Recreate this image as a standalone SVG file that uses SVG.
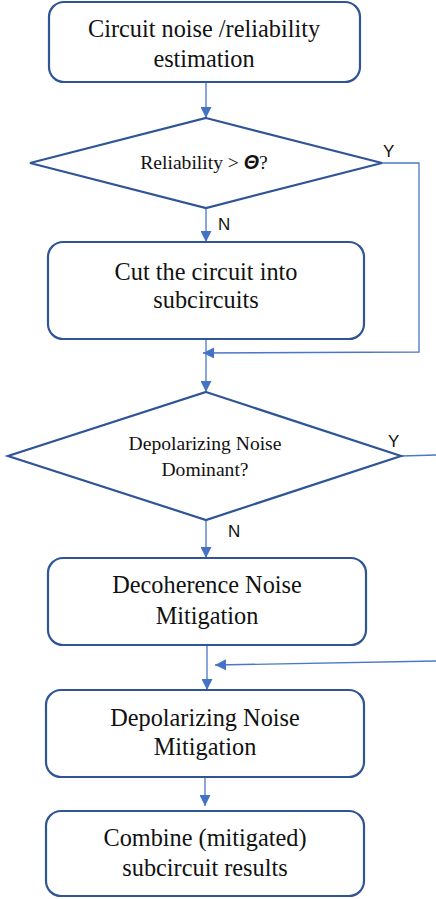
<svg xmlns="http://www.w3.org/2000/svg" width="436" height="899" viewBox="0 0 436 899">
<style>
.box{fill:#fff;stroke:#2F5597;stroke-width:2.2}
.t{font-size:24.3px;fill:#111;text-anchor:middle}
.ts{font-size:19.6px;fill:#111;text-anchor:middle}
.lbl{font-size:17px;fill:#111}
.c{fill:none;stroke:#4A78C8;stroke-width:1.3}
</style>
<defs>
<marker id="ah" viewBox="0 0 10 10" refX="10" refY="5" markerWidth="11" markerHeight="11" markerUnits="userSpaceOnUse" orient="auto">
<path d="M0,0 L10,5 L0,10 z" fill="#4472C4"/>
</marker>
</defs>
<rect width="436" height="899" fill="#fff"/>
<g id="connectors">
<line class="c" x1="206" y1="82" x2="206" y2="118" marker-end="url(#ah)"/>
<line class="c" x1="206" y1="208" x2="206" y2="242" marker-end="url(#ah)"/>
<polyline class="c" points="382,163 419,163 419,352 203,353" marker-end="url(#ah)"/>
<line class="c" x1="206" y1="339" x2="206" y2="392" marker-end="url(#ah)"/>
<line class="c" x1="206" y1="520" x2="206" y2="558" marker-end="url(#ah)"/>
<line class="c" x1="401" y1="456" x2="436" y2="455"/>
<line class="c" x1="436" y1="661" x2="215" y2="665" marker-end="url(#ah)"/>
<line class="c" x1="207" y1="645" x2="207" y2="690" marker-end="url(#ah)"/>
<line class="c" x1="205" y1="777" x2="205" y2="806" marker-end="url(#ah)"/>
</g>
<g font-family="Liberation Serif, Times New Roman, serif">
<g id="n1">
<rect class="box" x="49" y="2" width="311" height="80" rx="15"/>
<text class="t" x="204" y="37">Circuit noise /reliability</text>
<text class="t" x="204" y="67">estimation</text>
</g>
<g id="d1">
<polygon class="box" points="206,118 382,163 206,208 30,163"/>
<text class="ts" x="204" y="169">Reliability &gt; <tspan font-family="Liberation Sans, Arial, sans-serif" font-weight="bold" font-style="italic">Θ</tspan>?</text>
<text class="lbl" x="383" y="157" font-family="Liberation Sans, Arial, sans-serif">Y</text>
<text class="lbl" x="218" y="230" font-family="Liberation Sans, Arial, sans-serif">N</text>
</g>
<g id="n2">
<rect class="box" x="48" y="242" width="316" height="97" rx="15"/>
<text class="t" x="206" y="280">Cut the circuit into</text>
<text class="t" x="206" y="308">subcircuits</text>
</g>
<g id="d2">
<polygon class="box" points="206,392 401,456 206,520 8,456"/>
<text class="ts" x="205" y="450">Depolarizing Noise</text>
<text class="ts" x="205" y="476">Dominant?</text>
<text class="lbl" x="388" y="447" font-family="Liberation Sans, Arial, sans-serif">Y</text>
<text class="lbl" x="228" y="537" font-family="Liberation Sans, Arial, sans-serif">N</text>
</g>
<g id="n3">
<rect class="box" x="48" y="558" width="318" height="87" rx="15"/>
<text class="t" x="207" y="593">Decoherence Noise</text>
<text class="t" x="207" y="624">Mitigation</text>
</g>
<g id="n4">
<rect class="box" x="46" y="690" width="318" height="87" rx="15"/>
<text class="t" x="205" y="726">Depolarizing Noise</text>
<text class="t" x="205" y="755">Mitigation</text>
</g>
<g id="n5">
<rect class="box" x="46" y="811" width="318" height="85" rx="15"/>
<text class="t" x="205" y="846">Combine (mitigated)</text>
<text class="t" x="205" y="876">subcircuit results</text>
</g>
</g>
</svg>
